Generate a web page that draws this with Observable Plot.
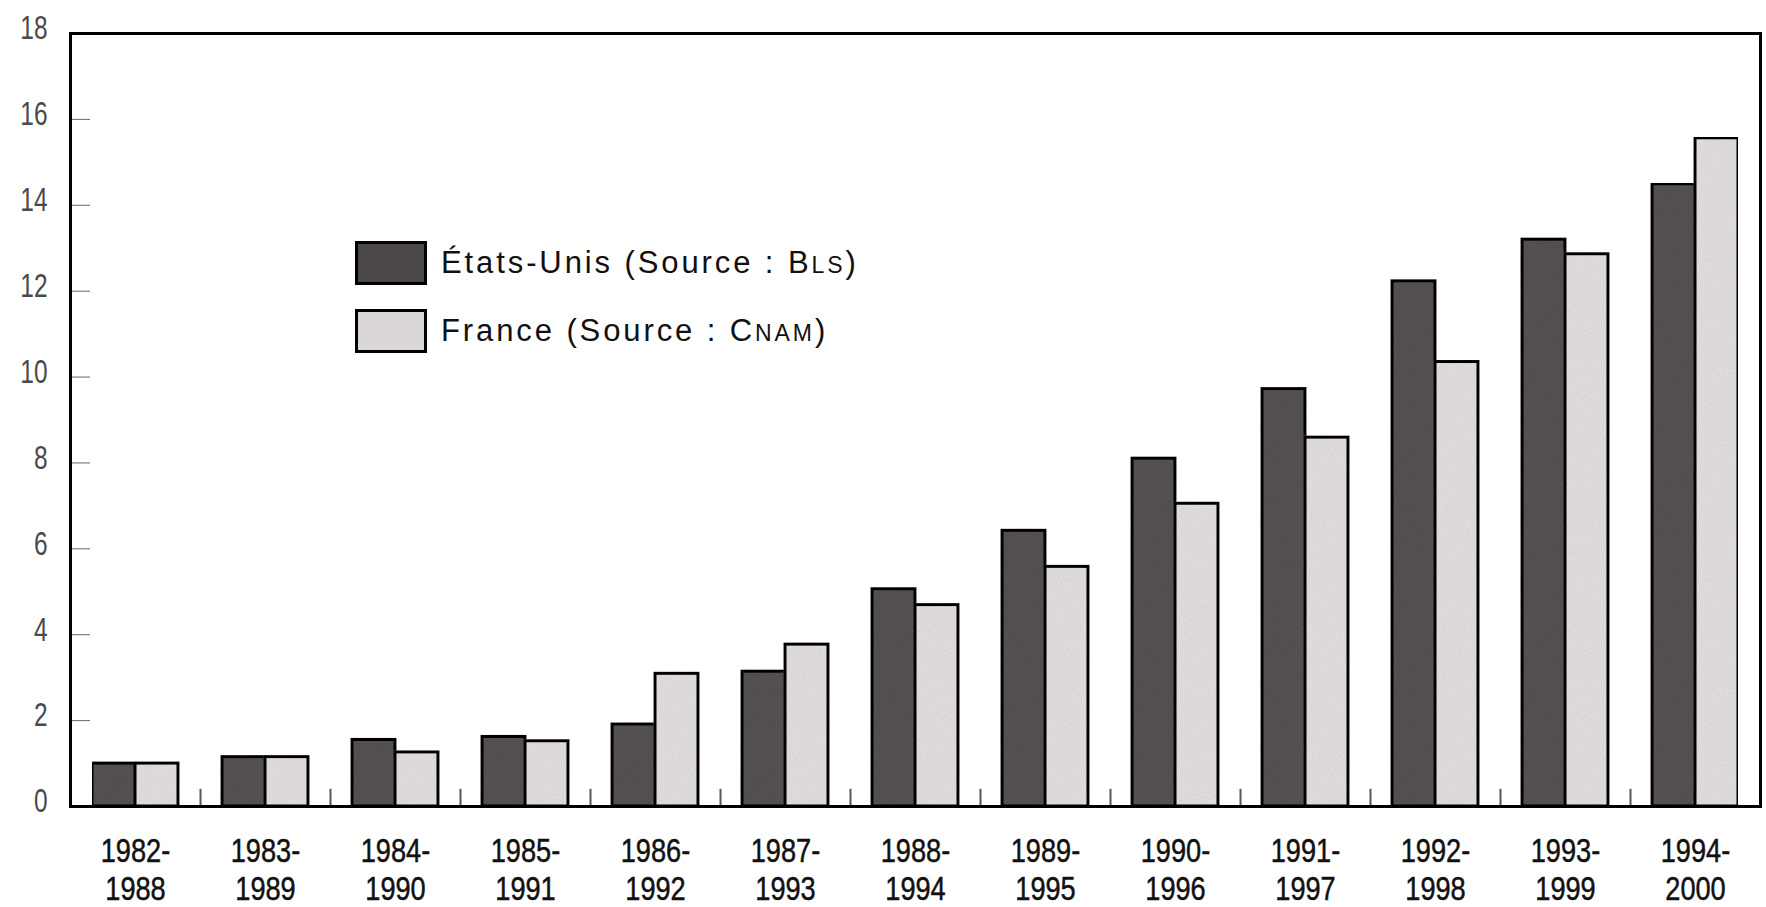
<!DOCTYPE html>
<html>
<head>
<meta charset="utf-8">
<script src="https://cdn.jsdelivr.net/npm/d3@7"></script>
<script src="https://cdn.jsdelivr.net/npm/@observablehq/plot@0.6"></script>
<style>
  html, body { margin: 0; padding: 0; background: #fff; }
  #wrap { position: relative; width: 1766px; height: 907px; overflow: hidden; }
  #legend { position: absolute; left: 355px; top: 241px; font-family: "Liberation Sans", Arial, sans-serif; font-size: 31px; letter-spacing: 2.9px; color: #111; }
  .item { display: flex; align-items: center; height: 43px; margin-bottom: 25px; }
  .sw { width: 66px; height: 38px; border: 3px solid #000; margin-right: 14px; box-sizing: content-box; }
  .sc { font-size: 23px; }
</style>
</head>
<body>
<div id="wrap"></div>
<script>
// ---- data ----
const periods = ["1982-1988","1983-1989","1984-1990","1985-1991","1986-1992","1987-1993","1988-1994","1989-1995","1990-1996","1991-1997","1992-1998","1993-1999","1994-2000"];
const usValues = [1.0, 1.15, 1.55, 1.62, 1.91, 3.14, 5.06, 6.42, 8.1, 9.72, 12.23, 13.2, 14.49];
const frValues = [1.0, 1.15, 1.26, 1.52, 3.09, 3.77, 4.69, 5.58, 7.05, 8.59, 10.35, 12.86, 15.56];
const seriesNames = ["États-Unis (Source : BLS)", "France (Source : CNAM)"];
const seriesColors = ["#575353", "#e6e2e2"];
const yTicks = [0, 2, 4, 6, 8, 10, 12, 14, 16, 18];

// ---- layout ----
const W = 1766, H = 907, mL = 70, mR = 6, mT = 33, mB = 101;
const step = (W - mL - mR) / periods.length;
const barW = 43;

const usRows = periods.map((p, i) => ({period: p, series: seriesNames[0], value: usValues[i]}));
const frRows = periods.map((p, i) => ({period: p, series: seriesNames[1], value: frValues[i]}));

const chart = Plot.plot({
  width: W, height: H,
  marginLeft: mL, marginRight: mR, marginTop: mT, marginBottom: mB,
  style: {background: "white", fontFamily: "Liberation Sans, Arial, sans-serif", color: "#222"},
  x: {domain: periods, padding: 0, label: null},
  y: {domain: [0, 18], label: null},
  color: {domain: seriesNames, range: seriesColors},
  marks: [
    Plot.barY(usRows, {x: "period", y: "value", fill: "series", stroke: "#000", strokeWidth: 3,
      insetLeft: step / 2 - barW, insetRight: step / 2}),
    Plot.barY(frRows, {x: "period", y: "value", fill: "series", stroke: "#000", strokeWidth: 3,
      insetLeft: step / 2, insetRight: step / 2 - barW}),
    Plot.ruleX(periods.slice(1), {x: d => d, dx: -step / 2, y1: 0, y2: 0.4, stroke: "#555", strokeWidth: 2}),
    Plot.axisY({ticks: yTicks, tickSize: -20, tickPadding: 43, fontSize: 34, stroke: "#666", fill: "#4a4a4a", label: null}),
    Plot.axisX({tickSize: 0, tickPadding: 28, fontSize: 34, lineHeight: 1.13,
      fontFamily: "Liberation Sans, Arial, sans-serif",
      tickFormat: p => p.replace("-", "-\n"), fill: "#111", label: null}),
    Plot.frame({stroke: "#000", strokeWidth: 3})
  ]
});

// condensed look for the axis labels (horizontal squeeze of each label around its anchor)
function squeezeLabels(selector, k, dy = 0) {
  chart.querySelectorAll(selector).forEach(t => {
    const tr = t.getAttribute("transform") || "";
    const m = tr.match(/translate\(\s*([-\d.e]+)[ ,]+([-\d.e]+)\s*\)/);
    if (m) {
      t.setAttribute("transform", `translate(${m[1]},${+m[2] + dy}) scale(${k},1)`);
    } else {
      const cx = +(t.getAttribute("x") || 0);
      t.setAttribute("transform", `translate(${cx},${dy}) scale(${k},1) translate(${-cx},0)` + (tr ? " " + tr : ""));
    }
  });
}
squeezeLabels('g[aria-label="x-axis tick label"] text', 0.8);
squeezeLabels('g[aria-label="y-axis tick label"] text', 0.72, -5);
chart.querySelectorAll('g[aria-label="x-axis tick label"]').forEach(g => {
  g.setAttribute("stroke", "#111");
  g.setAttribute("stroke-width", "0.5");
});

// grain texture on the bars, as in the printed original
const ns = "http://www.w3.org/2000/svg";
const defs = document.createElementNS(ns, "defs");
defs.innerHTML = `<filter id="grain" x="0" y="0" width="100%" height="100%">
  <feTurbulence type="fractalNoise" baseFrequency="0.8" numOctaves="2" seed="3" result="noise"/>
  <feColorMatrix in="noise" type="saturate" values="0" result="gn"/>
  <feComponentTransfer in="gn" result="gn2"><feFuncA type="linear" slope="0.35"/></feComponentTransfer>
  <feComposite in="gn2" in2="SourceGraphic" operator="in" result="clipped"/>
  <feBlend in="clipped" in2="SourceGraphic" mode="multiply"/>
</filter>`;
chart.insertBefore(defs, chart.firstChild);
chart.querySelectorAll('g[aria-label="bar"]').forEach(g => g.setAttribute("filter", "url(#grain)"));

const wrap = document.getElementById("wrap");
wrap.appendChild(chart);

// legend (inside the plot area)
const legend = document.createElement("div");
legend.id = "legend";
const legendLabels = [
  ["États-Unis (Source : B", "LS", ")"],
  ["France (Source : C", "NAM", ")"]
];
seriesNames.forEach((name, i) => {
  const item = document.createElement("div");
  item.className = "item";
  const sw = document.createElement("div");
  sw.className = "sw";
  sw.style.background = i === 0 ? "#4b4747" : "#dbd7d7";
  const t = document.createElement("span");
  const [a, b, c] = legendLabels[i];
  t.append(a);
  const s = document.createElement("span");
  s.className = "sc";
  s.textContent = b;
  t.append(s);
  t.append(c);
  item.append(sw, t);
  legend.appendChild(item);
});
wrap.appendChild(legend);
</script>
</body>
</html>
